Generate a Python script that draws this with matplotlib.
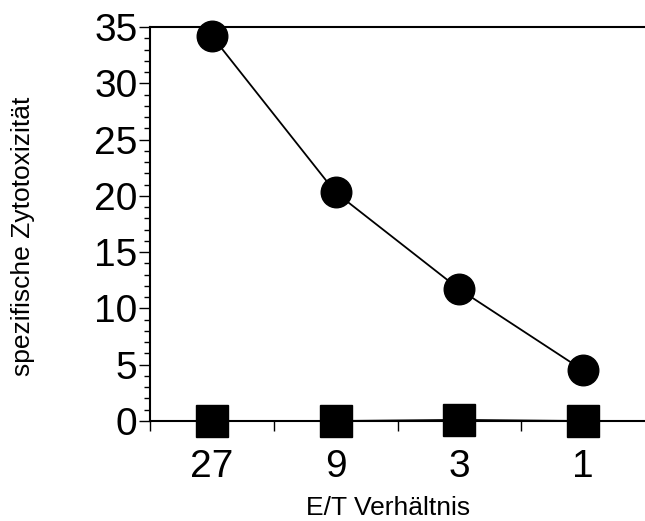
import matplotlib.pyplot as plt
from matplotlib.ticker import MultipleLocator, FixedLocator, NullFormatter

plt.rcParams['font.family'] = ['Liberation Sans', 'DejaVu Sans']

# E/T ratios and specific cytotoxicity (%)
ratios = ['27', '9', '3', '1']
effector = [34.2, 20.3, 11.7, 4.5]
control = [0.0, 0.0, 0.1, 0.0]

fig = plt.figure(figsize=(6.45, 5.21), dpi=100)
ax = fig.add_axes([150 / 645, 100 / 521, 495 / 645, 394 / 521])

xpos = [i + 0.5 for i in range(len(ratios))]
ax.plot(xpos, effector, color='black', lw=1.3, marker='o', markersize=22,
        clip_on=False, zorder=3)
ax.plot(xpos, control, color='black', lw=1.3, marker='s', markersize=23,
        clip_on=False, zorder=3)

ax.set_xlim(0, 4)
ax.set_ylim(0, 35)

ax.spines['right'].set_visible(False)
for s in ['left', 'top', 'bottom']:
    ax.spines[s].set_linewidth(1.5)

ax.yaxis.set_major_locator(MultipleLocator(5))
ax.yaxis.set_minor_locator(MultipleLocator(1))
ax.tick_params(axis='y', which='major', direction='out', length=8, width=1,
               labelsize=28, pad=1)
ax.tick_params(axis='y', which='minor', direction='out', length=4, width=1)

# boundary ticks between categories, labels centred on categories
ax.xaxis.set_major_locator(FixedLocator([0, 1, 2, 3]))
ax.xaxis.set_major_formatter(NullFormatter())
ax.xaxis.set_minor_locator(FixedLocator(xpos))
ax.set_xticklabels(ratios, minor=True)
ax.tick_params(axis='x', which='major', direction='out', length=7, width=1)
ax.tick_params(axis='x', which='minor', length=0, labelsize=28, pad=20)

ax.set_xlabel('E/T Verhältnis', fontsize=19)
ax.xaxis.set_label_coords(0.48, -0.222)
ax.xaxis.label.set_va('center')
ax.set_ylabel('spezifische Zytotoxizität', fontsize=19)
ax.yaxis.set_label_coords(-127 / 495, 0.47)
ax.yaxis.label.set_va('center')

fig.savefig('out.png', dpi=100)
